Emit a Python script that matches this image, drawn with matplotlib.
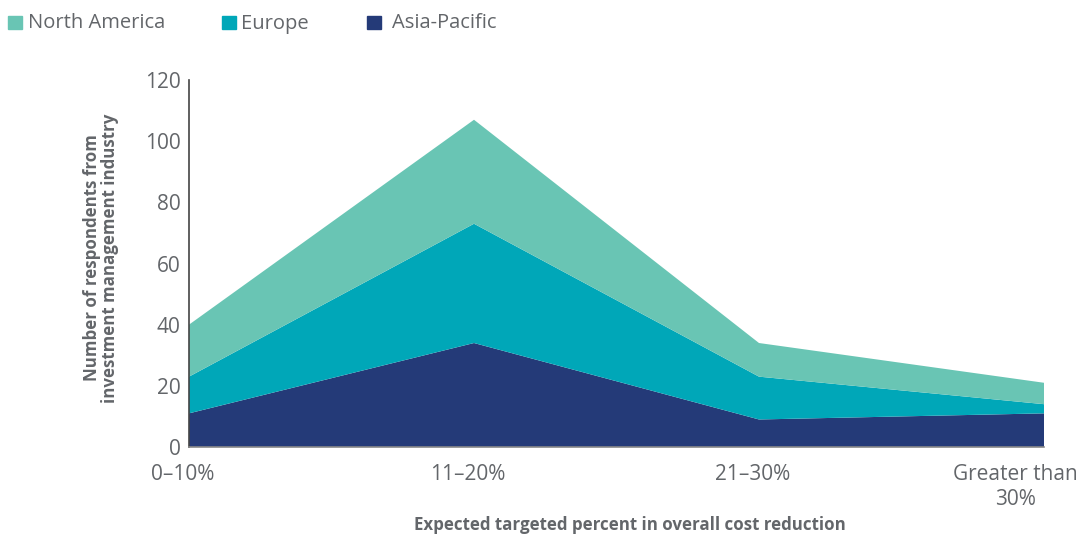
import matplotlib
matplotlib.use("Agg")
import matplotlib.pyplot as plt
import matplotlib.transforms as mtransforms
from matplotlib.patches import Rectangle
import numpy as np

categories = ["0\u201310%", "11\u201320%", "21\u201330%", "Greater than\n30%"]
asia_pacific = [11, 34, 9, 11]
europe = [12, 39, 14, 3]
north_america = [17, 34, 11, 7]
series_names = ["North America", "Europe", "Asia-Pacific"]
colors = {"North America": "#69C5B4", "Europe": "#00A7B8", "Asia-Pacific": "#243A78"}
yticks = [0, 20, 40, 60, 80, 100, 120]

gray = "#63666A"
plt.rcParams["font.family"] = ["Open Sans", "DejaVu Sans"]

fig = plt.figure(figsize=(10.84, 5.37), dpi=100)
ax = fig.add_axes([189/1084, 1-447/537, (1044-189)/1084, (447-80)/537])

x = np.arange(len(categories))
ax.stackplot(x, asia_pacific, europe, north_america,
             colors=[colors["Asia-Pacific"], colors["Europe"], colors["North America"]],
             linewidth=0)
ax.set_xlim(0, len(categories)-1)
ax.set_ylim(0, 120)
ax.set_yticks(yticks)
ax.set_yticklabels([str(v) for v in yticks], fontsize=15, color=gray)
ax.set_xticks(x)
ax.set_xticklabels(categories, fontsize=15, color=gray, linespacing=1.3)
ax.tick_params(length=0)
ax.tick_params(axis="x", pad=12)
ax.tick_params(axis="y", pad=6)
for i, lab in enumerate(ax.get_xticklabels()):
    dx = -29 if i == len(categories)-1 else -6
    lab.set_transform(lab.get_transform() + mtransforms.ScaledTranslation(dx/100, 0, fig.dpi_scale_trans))
for s in ["top", "right"]:
    ax.spines[s].set_visible(False)
ax.spines["left"].set_color("#444444")
ax.spines["bottom"].set_color("#888888")
ax.spines["left"].set_linewidth(1.2)
ax.spines["bottom"].set_linewidth(1.2)

cond = ["Liberation Sans Narrow", "Open Sans", "DejaVu Sans"]
fig.text(101/1084, 1-258/537, "Number of respondents from\ninvestment management industry",
         rotation=90, ha="center", va="center", fontsize=12.2, fontweight="bold",
         color=gray, family=cond, linespacing=1.05)
fig.text(630/1084, 1-525/537, "Expected targeted percent in overall cost reduction",
         ha="center", va="center", fontsize=12.2, fontweight="bold", color=gray, family=cond)

# legend
leg_pos = [(8, 28), (222, 241), (367, 392)]
for name, (sx, tx) in zip(series_names, leg_pos):
    fig.patches.append(Rectangle((sx/1084, 1-29/537), 13.5/1084, 13.5/537,
                                 transform=fig.transFigure, color=colors[name]))
    fig.text(tx/1084, 1-23.5/537, name, ha="left", va="center", fontsize=14.5, color=gray)

fig.savefig("out.png", dpi=100)
